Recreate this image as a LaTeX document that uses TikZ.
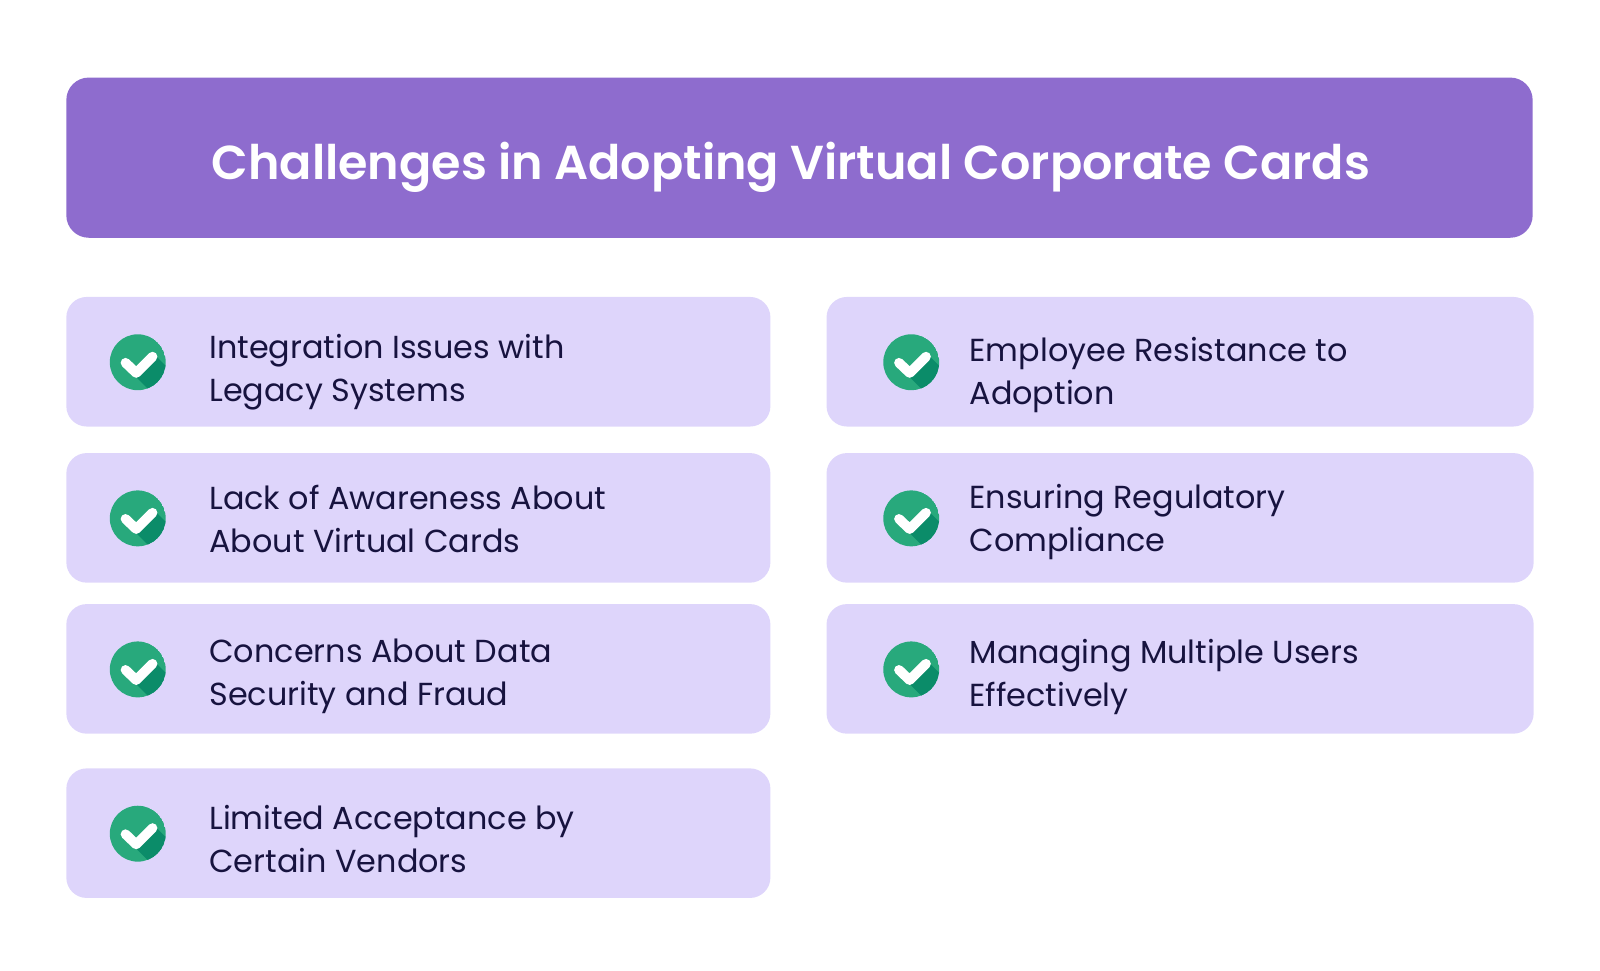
\documentclass[tikz,border=0pt]{standalone}
\usepackage{fontspec}
\setmainfont{Poppins}
\newfontfamily\titlefont{Poppins SemiBold}
\definecolor{titlebg}{HTML}{8E6CCE}
\definecolor{cardbg}{HTML}{DED5FB}
\definecolor{ink}{HTML}{17133F}
\definecolor{gLight}{HTML}{28A97C}
\definecolor{gDark}{HTML}{0B8C69}
\tikzset{
  titlebox/.style={fill=titlebg, rounded corners=22pt},
  cardbox/.style={fill=cardbg, rounded corners=20pt},
  cardtext/.style={anchor=base west, align=left, inner sep=0pt, text=ink, font=\fontsize{31.2}{42}\selectfont},
  chk/.pic={
    \begin{scope}
      \clip (0,0) circle (27.4);
      \fill[gLight] (0,0) circle (27.4);
      \fill[gDark] (-3,13) -- (17,-7) -- (57,33) -- (37,53) -- cycle;
    \end{scope}
    \draw[white, line width=9.5pt, line cap=round, line join=round] (-12,0.5) -- (-1.5,10.5) -- (14.5,-5.5);
  }
}
\begin{document}
\begin{tikzpicture}[x=1pt,y=-1pt]
\useasboundingbox (0,0) rectangle (1568,950.6);
\fill[titlebox] (65,76) rectangle (1502,233);
\node[text=white, font=\titlefont\fontsize{46.7}{56}\selectfont, anchor=base] (title) at (775,176) {Challenges in Adopting Virtual Corporate Cards};
% left column
\fill[cardbox] (65,291) rectangle (755,418);
\pic at (135,355) {chk};
\node[cardtext] (t1) at (205,393) {Integration Issues with\\Legacy Systems};
\fill[cardbox] (65,444) rectangle (755,571);
\pic at (135,508) {chk};
\node[cardtext] (t2) at (205,541) {Lack of Awareness About\\About Virtual Cards};
\fill[cardbox] (65,592) rectangle (755,719);
\pic at (135,656) {chk};
\node[cardtext] (t3) at (205,691) {Concerns About Data\\Security and Fraud};
\fill[cardbox] (65,753) rectangle (755,880);
\pic at (135,817) {chk};
\node[cardtext] (t4) at (205,855) {Limited Acceptance by\\Certain Vendors};
% right column
\fill[cardbox] (810,291) rectangle (1503,418);
\pic at (893,355) {chk};
\node[cardtext] (t5) at (950,396) {Employee Resistance to\\Adoption};
\fill[cardbox] (810,444) rectangle (1503,571);
\pic at (893,508) {chk};
\node[cardtext] (t6) at (950,540) {Ensuring Regulatory\\Compliance};
\fill[cardbox] (810,592) rectangle (1503,719);
\pic at (893,656) {chk};
\node[cardtext] (t7) at (950,692) {Managing Multiple Users\\Effectively};
\end{tikzpicture}
\end{document}
